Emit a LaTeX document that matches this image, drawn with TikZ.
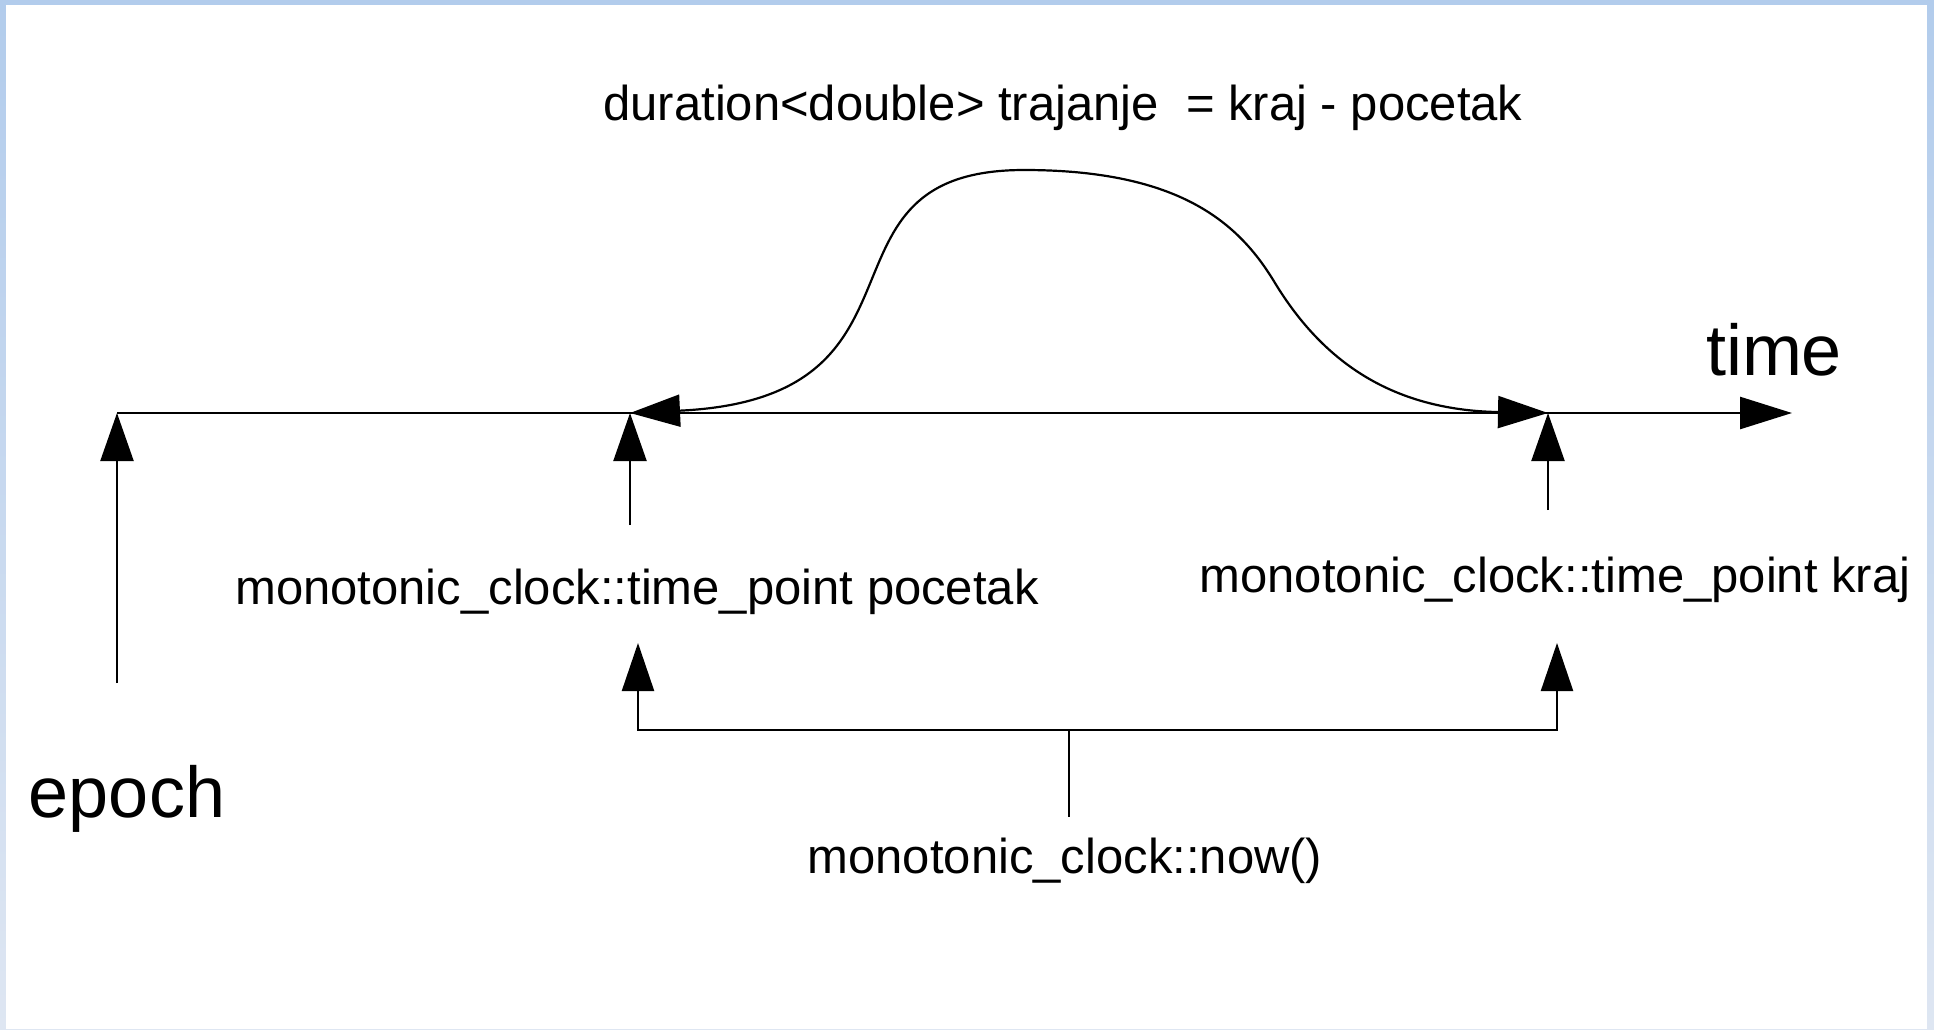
\documentclass[tikz,border=0pt]{standalone}
\usepackage{fontspec}
\setmainfont{Liberation Sans}
\usetikzlibrary{arrows.meta}

\definecolor{frametop}{RGB}{178,204,236}
\definecolor{framebot}{RGB}{222,230,242}

\tikzstyle{conn}=[draw=black, line width=1.1pt]
\tikzstyle{tip}=[conn, -{Triangle[length=24pt,width=16.5pt]}]
\tikzstyle{span}=[conn, {Triangle[length=25pt,width=16pt]}-{Triangle[length=25pt,width=16pt]}]
\tikzstyle{axis}=[conn, line width=1.3pt, -{Triangle[length=26pt,width=16pt]}]
\tikzstyle{smalltext}=[font=\fontsize{24.5}{29}\selectfont, anchor=base, inner sep=0pt]
\tikzstyle{bigtext}=[font=\fontsize{36}{43}\selectfont, anchor=base, inner sep=0pt]

\begin{document}
\begin{tikzpicture}[x=0.5pt, y={(0pt,-0.5pt)}]
    % frame
    \useasboundingbox (0,0) rectangle (1934,1029);
    \shade[top color=frametop, bottom color=framebot] (0,0) rectangle (1934,1029);
    \fill[white] (6,5) rectangle (1927,1029);

    % time axis
    \coordinate (epoch0) at (117,413);
    \coordinate (start) at (630,413);
    \coordinate (stop) at (1548,413);
    \coordinate (tend) at (1792,413);
    \draw[axis] (epoch0) -- (tend);
    \node (time) [bigtext] at (1774,375) {time};

    % epoch
    \coordinate (epochfoot) at (117,683);
    \node (epoch) [bigtext] at (127,817) {epoch};
    \draw[tip] (epochfoot) -- (epoch0);

    % time points
    \node (pocetak) [smalltext] at (637,604) {monotonic\_clock::time\_point pocetak};
    \node (kraj) [smalltext] at (1555,592) {monotonic\_clock::time\_point kraj};
    \coordinate (pocetakup) at (630,525);
    \coordinate (krajup) at (1548,510);
    \draw[tip] (pocetakup) -- (start);
    \draw[tip] (krajup) -- (stop);

    % duration
    \node (trajanje) [smalltext] at (1063,120) {duration<double> trajanje\ \ = kraj - pocetak};
    \coordinate (peak) at (1024,170);
    \coordinate (fall) at (1275,283);
    \draw[span] (start) .. controls (950,398) and (800,170) .. (peak)
                        .. controls (1180,170) and (1239,223) .. (fall)
                        .. controls (1322,360) and (1390,410) .. (stop);

    % now()
    \coordinate (nowl) at (638,643);
    \coordinate (nowr) at (1557,643);
    \coordinate (nowc) at (1069,730);
    \coordinate (nowfoot) at (1069,817);
    \node (now) [smalltext] at (1065,873) {monotonic\_clock::now()};
    \draw[conn, {Triangle[length=24pt,width=16pt]}-{Triangle[length=24pt,width=16pt]}]
        (nowl) |- (nowc) -| (nowr);
    \draw[conn] (nowc) -- (nowfoot);
\end{tikzpicture}
\end{document}
